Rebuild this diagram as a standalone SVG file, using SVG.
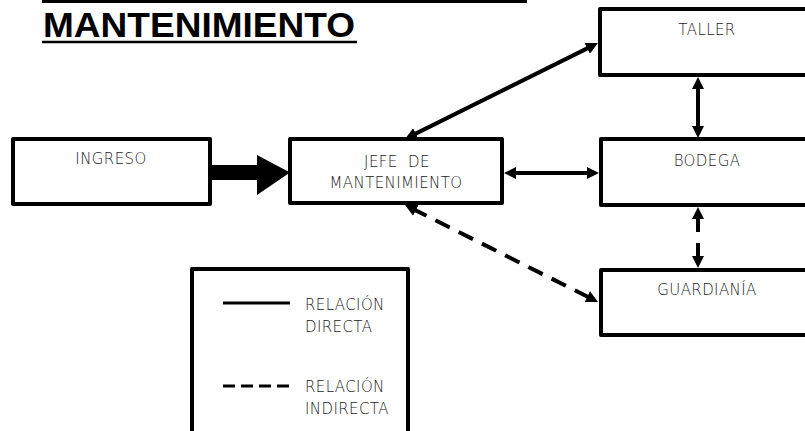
<svg xmlns="http://www.w3.org/2000/svg" width="805" height="431" viewBox="0 0 805 431">
<style>
.box{fill:#fff;stroke:#000;stroke-width:4;stroke-linejoin:round}
.lbl{font-family:"DejaVu Sans",sans-serif;font-weight:200;font-size:15px;fill:#1a1a1a;letter-spacing:0.4px}
.c{text-anchor:middle}
.con{stroke:#000;stroke-width:4;fill:none}
.dash{stroke-dasharray:16 10}
</style>
<defs>
<marker id="ah" viewBox="0 0 12 12" refX="4" refY="6" markerWidth="12" markerHeight="12" markerUnits="userSpaceOnUse" orient="auto-start-reverse">
<path d="M0,0 L12,6 L0,12 z" fill="#000"/>
</marker>
</defs>
<rect width="805" height="431" fill="#fff"/>
<g id="title">
<line x1="42" y1="1.5" x2="527" y2="1.5" stroke="#000" stroke-width="3"/>
<text x="43" y="37" font-family="Liberation Sans, Arial, sans-serif" font-weight="bold" font-size="35" textLength="312" lengthAdjust="spacingAndGlyphs" fill="#000">MANTENIMIENTO</text>
<line x1="42" y1="42" x2="357" y2="42" stroke="#000" stroke-width="2.5"/>
</g>
<g id="ingreso">
<rect class="box" x="13" y="139" width="197" height="65"/>
<text class="lbl c" x="111" y="164">INGRESO</text>
</g>
<g id="jefe">
<rect class="box" x="290" y="139" width="212" height="64"/>
<text class="lbl c" x="397" y="167" xml:space="preserve">JEFE  DE</text>
<text class="lbl c" x="396" y="188">MANTENIMIENTO</text>
</g>
<g id="taller">
<rect class="box" x="600" y="9" width="230" height="66"/>
<text class="lbl c" x="707" y="35">TALLER</text>
</g>
<g id="bodega">
<rect class="box" x="601" y="139" width="230" height="66"/>
<text class="lbl c" x="707" y="166">BODEGA</text>
</g>
<g id="guardiania">
<rect class="box" x="601" y="270" width="230" height="65"/>
<text class="lbl c" x="707" y="295">GUARDIANÍA</text>
</g>
<g id="legend">
<rect class="box" x="192" y="269" width="216" height="200" stroke-width="5"/>
<line x1="223" y1="303" x2="290" y2="303" stroke="#000" stroke-width="3"/>
<text class="lbl" x="305" y="310">RELACIÓN</text>
<text class="lbl" x="305" y="332">DIRECTA</text>
<line x1="223" y1="386" x2="290" y2="386" stroke="#000" stroke-width="3" stroke-dasharray="12 6"/>
<text class="lbl" x="305" y="392">RELACIÓN</text>
<text class="lbl" x="305" y="414">INDIRECTA</text>
</g>
<g id="connectors">
<path d="M210,165 L257,165 L257,155 L290,172.5 L257,195 L257,180 L210,180 z" fill="#000"/>
<line class="con" x1="512" y1="173" x2="591" y2="173" marker-start="url(#ah)" marker-end="url(#ah)"/>
<line class="con" x1="698" y1="85" x2="698" y2="130" marker-start="url(#ah)" marker-end="url(#ah)"/>
<line class="con" x1="412.2" y1="135.4" x2="590.8" y2="46.6" stroke-width="5" marker-start="url(#ah)" marker-end="url(#ah)"/>
<line class="con dash" x1="412.2" y1="208.6" x2="590.9" y2="298.4" stroke-width="5" marker-start="url(#ah)" marker-end="url(#ah)"/>
<line class="con" x1="698" y1="215" x2="698" y2="260" stroke-width="5" stroke-dasharray="17 11" marker-start="url(#ah)" marker-end="url(#ah)"/>
</g>
</svg>
